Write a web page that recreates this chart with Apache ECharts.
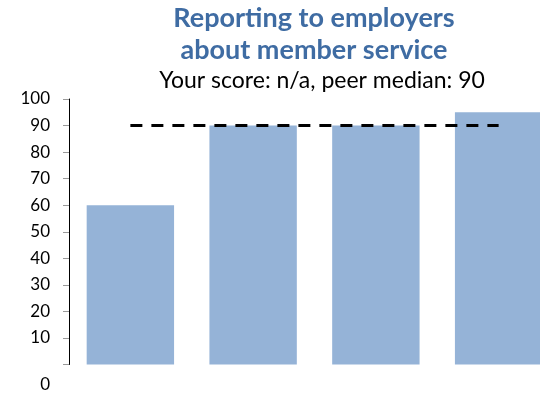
<!DOCTYPE html>
<html>
<head>
<meta charset="utf-8">
<script src="https://cdn.jsdelivr.net/npm/echarts@6/dist/echarts.min.js"></script>
<style>
  html, body { margin: 0; padding: 0; background: #fff; }
  #chart { width: 540px; height: 394px; }
</style>
</head>
<body>
<div id="chart"></div>
<script>
// Scores per peer (unlabelled categories) and the peer median reference
const categories = ['A', 'B', 'C', 'D'];
const scores = [60, 90, 90, 95];
const peerMedian = [90, 90, 90, 90];
const yTicks = [0, 10, 20, 30, 40, 50, 60, 70, 80, 90, 100];

const FONT = 'Lato, "Open Sans", sans-serif';

const chart = echarts.init(document.getElementById('chart'));
chart.setOption({
  animation: false,
  title: [
    {
      text: 'Reporting to employers\nabout member service',
      left: 314,
      top: 2,
      textAlign: 'center',
      padding: 0,
      textStyle: {
        fontFamily: FONT, fontWeight: 'bold', fontSize: 27,
        color: '#3F6CA3', lineHeight: 32
      }
    },
    {
      text: 'Your score: n/a, peer median: 90',
      left: 322,
      top: 68,
      textAlign: 'center',
      padding: 0,
      textStyle: {
        fontFamily: FONT, fontWeight: 'normal', fontSize: 23,
        color: '#000', lineHeight: 26
      }
    }
  ],
  grid: {
    left: 69, top: 99, width: 491, bottom: 29.5,
    containLabel: false, outerBoundsMode: 'none'
  },
  xAxis: {
    type: 'category',
    data: categories,
    axisLine: { show: false },
    axisTick: { show: false },
    axisLabel: { show: false }
  },
  yAxis: {
    type: 'value',
    min: yTicks[0],
    max: yTicks[yTicks.length - 1],
    interval: 10,
    splitLine: { show: false },
    axisLine: { show: true, lineStyle: { color: '#000', width: 1 } },
    axisTick: { show: true, length: 6, lineStyle: { color: '#999', width: 1 } },
    axisLabel: {
      fontFamily: FONT, fontSize: 17, color: '#000', margin: 19,
      formatter: v => v === 0 ? '{z|0}' : String(v),
      rich: { z: { fontFamily: FONT, fontSize: 17, color: '#000', padding: [41, 0, 0, 0] } }
    }
  },
  series: [
    {
      type: 'bar',
      data: scores,
      barCategoryGap: '28.8%',
      itemStyle: { color: '#95B3D7' }
    },
    {
      type: 'line',
      data: peerMedian,
      symbol: 'none',
      lineStyle: { color: '#000', width: 3, type: [12, 9], cap: 'butt' },
      z: 5
    }
  ]
});
</script>
</body>
</html>
